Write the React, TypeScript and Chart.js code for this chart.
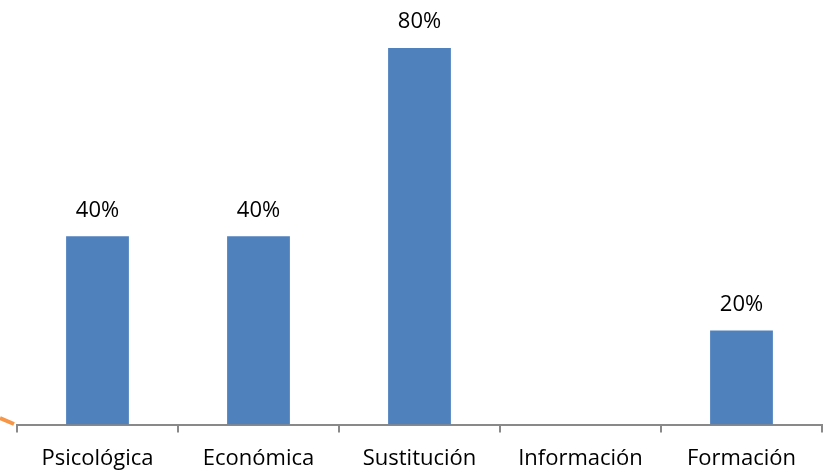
import React, { useEffect, useRef } from "react";
import { Chart, registerables } from "chart.js";

Chart.register(...registerables);

const categories = ["Psicológica", "Económica", "Sustitución", "Información", "Formación"];
const values = [40, 40, 80, 0, 20];

const FONT = "'Open Sans', Lato, sans-serif";

const labelPlugin = {
  id: "valueLabels",
  afterDatasetsDraw(chart: any) {
    const ctx = chart.ctx;
    const meta = chart.getDatasetMeta(0);
    ctx.save();
    ctx.font = `22px ${FONT}`;
    ctx.fillStyle = "#000";
    ctx.textAlign = "center";
    ctx.textBaseline = "middle";
    meta.data.forEach((bar: any, i: number) => {
      const v = values[i];
      if (v > 0) ctx.fillText(`${v}%`, bar.x, bar.y - 26);
    });
    // small orange arrow fragment at left edge
    ctx.strokeStyle = "#F79646";
    ctx.lineWidth = 4;
    ctx.lineCap = "butt";
    ctx.beginPath();
    ctx.moveTo(0, 418);
    ctx.lineTo(14, 424);
    ctx.stroke();
    ctx.restore();
  },
};

export default function App() {
  const ref = useRef<HTMLCanvasElement | null>(null);
  useEffect(() => {
    document.body.style.margin = "0";
    const chart = new Chart(ref.current as HTMLCanvasElement, {
      type: "bar",
      data: {
        labels: categories,
        datasets: [
          {
            data: values,
            backgroundColor: "#4F81BD",
            categoryPercentage: 1,
            barPercentage: 0.39,
          },
        ],
      },
      options: {
        animation: false,
        responsive: false,
        layout: { padding: { top: 48, left: 17, right: 3, bottom: -9 } },
        plugins: { legend: { display: false }, tooltip: { enabled: false } },
        scales: {
          y: { display: false, min: 0, max: 80 },
          x: {
            offset: true,
            grid: {
              offset: true,
              drawOnChartArea: false,
              drawTicks: true,
              tickLength: 8,
              color: "#898989",
              lineWidth: 2,
            },
            border: { display: true, color: "#898989", width: 2 },
            ticks: {
              padding: 13,
              color: "#000",
              font: { family: FONT, size: 22 },
              maxRotation: 0,
            },
          },
        },
      },
      plugins: [labelPlugin],
    });
    return () => chart.destroy();
  }, []);
  return (
    <div style={{ position: "absolute", left: 0, top: 0, width: 825, height: 476 }}>
      <canvas ref={ref} width={825} height={476} />
    </div>
  );
}
